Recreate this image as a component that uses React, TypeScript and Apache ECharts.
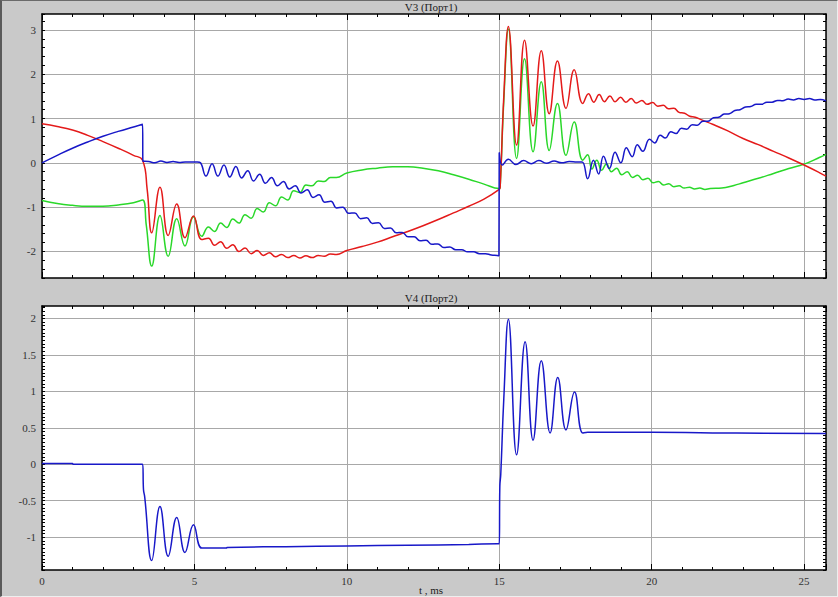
import React, { useEffect, useRef } from "react";
import * as echarts from "echarts";

// ---------- data ----------
const xMajorTicks = [0, 5, 10, 15, 20, 25];
const v3TickLabels = [-2, -1, 0, 1, 2, 3];
const v4TickLabels = [-1, -0.5, 0, 0.5, 1, 1.5, 2];

const v3Red: [number, number][] = [
  [0, 0.88], [0.5, 0.82], [1.0, 0.74], [1.5, 0.62], [2.0, 0.48], [2.5, 0.33], [3.0, 0.17], [3.3, 0.06],
  [3.45, -0.6], [3.6, -1.58], [3.87, -0.55], [4.14, -1.64], [4.42, -0.93], [4.69, -1.69], [4.97, -1.2], [5.24, -1.73],
  [5.46, -1.7], [5.66, -1.86], [5.86, -1.78], [6.06, -1.93], [6.26, -1.85], [6.46, -2.0], [6.66, -1.92], [6.86, -2.05],
  [7.06, -1.98], [7.26, -2.09], [7.46, -2.03], [7.66, -2.12], [7.86, -2.07], [8.06, -2.14], [8.26, -2.09], [8.46, -2.15],
  [8.66, -2.1], [8.86, -2.14], [9.06, -2.09], [9.26, -2.11], [9.46, -2.06], [9.66, -2.07],
  [10.0, -1.98], [10.5, -1.89], [11.0, -1.79], [11.5, -1.67], [12.0, -1.55], [12.5, -1.42], [13.0, -1.28],
  [13.5, -1.13], [14.0, -0.98], [14.5, -0.82], [15.0, -0.6],
  [15.03, -0.55], [15.15, 1.5], [15.3, 3.08], [15.57, 0.4], [15.83, 2.77], [16.11, 0.83], [16.38, 2.53], [16.64, 1.11],
  [16.91, 2.3], [17.19, 1.23], [17.46, 2.1], [17.74, 1.34],
  [17.93, 1.56], [18.1, 1.37], [18.28, 1.54], [18.45, 1.38], [18.63, 1.51], [18.8, 1.38], [18.98, 1.48], [19.15, 1.37],
  [19.33, 1.45], [19.5, 1.35], [19.68, 1.41], [19.85, 1.32], [20.03, 1.36], [20.2, 1.28], [20.38, 1.3], [20.55, 1.22],
  [20.73, 1.23], [20.9, 1.14], [21.08, 1.12], [21.25, 1.05], [21.43, 1.03], [21.6, 0.98],
  [22.0, 0.87], [22.5, 0.72], [23.0, 0.55], [23.5, 0.41], [24.0, 0.26], [24.5, 0.11], [25.0, -0.05], [25.5, -0.22], [25.72, -0.3],
];

const v3Green: [number, number][] = [
  [0, -0.85], [0.5, -0.92], [1.0, -0.96], [1.5, -0.98], [2.0, -0.98], [2.5, -0.95], [3.0, -0.9], [3.3, -0.84],
  [3.42, -1.4], [3.6, -2.33], [3.87, -1.19], [4.14, -2.11], [4.42, -1.26], [4.69, -1.88], [4.97, -1.22], [5.24, -1.66],
  [5.46, -1.45], [5.66, -1.55], [5.86, -1.36], [6.06, -1.46], [6.26, -1.27], [6.46, -1.36], [6.66, -1.17], [6.86, -1.25],
  [7.06, -1.03], [7.26, -1.11], [7.46, -0.9], [7.66, -0.97], [7.86, -0.77], [8.06, -0.84], [8.26, -0.63], [8.46, -0.67],
  [8.66, -0.5], [8.86, -0.52], [9.06, -0.41], [9.26, -0.42], [9.46, -0.33], [9.66, -0.33],
  [10.0, -0.23], [10.5, -0.16], [11.0, -0.12], [11.5, -0.09], [12.0, -0.09], [12.5, -0.12], [13.0, -0.18],
  [13.5, -0.27], [14.0, -0.37], [14.5, -0.48], [15.0, -0.58],
  [15.03, -0.55], [15.15, 1.4], [15.3, 3.02], [15.57, 0.1], [15.83, 2.35], [16.11, 0.25], [16.38, 1.83], [16.64, 0.28],
  [16.91, 1.34], [17.19, 0.17], [17.46, 0.92], [17.74, 0.06],
  [17.9, 0.18], [18.04, -0.14], [18.2, 0.06], [18.36, -0.17], [18.52, -0.02], [18.68, -0.2], [18.85, -0.12], [19.02, -0.27],
  [19.2, -0.2], [19.37, -0.33], [19.54, -0.28], [19.71, -0.38], [19.88, -0.35], [20.05, -0.45], [20.22, -0.42], [20.39, -0.5],
  [20.56, -0.47], [20.73, -0.54], [20.9, -0.52], [21.07, -0.57], [21.24, -0.55], [21.41, -0.59], [21.58, -0.57], [21.75, -0.6],
  [21.92, -0.58], [22.3, -0.57], [22.7, -0.51], [23.0, -0.45], [23.5, -0.35], [24.0, -0.24], [24.5, -0.13], [25.0, -0.03],
  [25.5, 0.12], [25.72, 0.19],
];

const v3Blue: [number, number][] = [
  [0, 0], [0.5, 0.17], [1.0, 0.33], [1.5, 0.47], [2.0, 0.6], [2.5, 0.71], [3.0, 0.81], [3.3, 0.87], [3.31, 0.04],
  [3.5, 0.03], [3.7, 0.0], [3.9, 0.04], [4.1, 0.01], [4.3, 0.03], [4.5, 0.01], [4.7, 0.02], [4.9, 0.02], [5.1, 0.02], [5.2, 0.0],
  [5.38, -0.3], [5.58, -0.02], [5.77, -0.3], [5.97, -0.05], [6.16, -0.32], [6.36, -0.08], [6.55, -0.34], [6.75, -0.18],
  [6.94, -0.41], [7.14, -0.26], [7.33, -0.46], [7.53, -0.33], [7.72, -0.52], [7.92, -0.42], [8.11, -0.59], [8.31, -0.52],
  [8.5, -0.68], [8.7, -0.61], [8.89, -0.78], [9.09, -0.72], [9.28, -0.89], [9.48, -0.87], [9.67, -1.02], [9.87, -1.0],
  [10.06, -1.14], [10.26, -1.13], [10.45, -1.26], [10.65, -1.24], [10.84, -1.37], [11.04, -1.35], [11.23, -1.48],
  [11.43, -1.47], [11.62, -1.58], [11.82, -1.57], [12.01, -1.67], [12.21, -1.67], [12.4, -1.76], [12.6, -1.75],
  [12.79, -1.84], [12.99, -1.83], [13.18, -1.91], [13.38, -1.9], [13.57, -1.96], [13.77, -1.96], [13.96, -2.01],
  [14.16, -2.01], [14.35, -2.05], [14.55, -2.05], [14.74, -2.08], [14.94, -2.09], [14.99, -2.1],
  [15.0, 0.23], [15.1, -0.05], [15.3, 0.08], [15.55, -0.04], [15.8, 0.05], [16.05, -0.02], [16.3, 0.05], [16.55, -0.01],
  [16.8, 0.04], [17.05, 0.0], [17.3, 0.03], [17.55, 0.02], [17.72, 0.02],
  [17.9, -0.36], [18.09, 0.06], [18.26, -0.25], [18.42, 0.15], [18.61, -0.13], [18.8, 0.24], [18.99, 0.0], [19.17, 0.34],
  [19.36, 0.14], [19.53, 0.41], [19.71, 0.26], [19.93, 0.53], [20.1, 0.45], [20.28, 0.62], [20.45, 0.56], [20.63, 0.7],
  [20.8, 0.66], [20.98, 0.78], [21.15, 0.76], [21.33, 0.86], [21.5, 0.85], [21.68, 0.94], [21.85, 0.94], [22.03, 1.02],
  [22.2, 1.03], [22.38, 1.1], [22.55, 1.11], [22.73, 1.18], [22.9, 1.2], [23.08, 1.26], [23.25, 1.27], [23.43, 1.32],
  [23.6, 1.32], [23.78, 1.37], [23.95, 1.37], [24.13, 1.41], [24.3, 1.4], [24.48, 1.44], [24.65, 1.42], [24.83, 1.45],
  [25.0, 1.43], [25.18, 1.45], [25.35, 1.42], [25.53, 1.43], [25.72, 1.4],
];

const v4Blue: [number, number][] = [
  [0, 0.01], [1.0, 0.01], [1.02, 0.0], [3.25, 0.0], [3.3, 0.0], [3.33, -0.35], [3.37, -0.45],
  [3.6, -1.32], [3.87, -0.58], [4.14, -1.26], [4.42, -0.73], [4.69, -1.21], [4.97, -0.83], [5.24, -1.15],
  [5.5, -1.15], [6.05, -1.15], [6.07, -1.14], [8.0, -1.13], [10.0, -1.12], [12.0, -1.11], [14.0, -1.1], [14.95, -1.09],
  [15.0, -1.09], [15.02, -0.3], [15.05, -0.14], [15.15, 0.9], [15.3, 1.99], [15.57, 0.13], [15.85, 1.68], [16.11, 0.33],
  [16.38, 1.42], [16.67, 0.43], [16.92, 1.19], [17.19, 0.47], [17.47, 0.99], [17.74, 0.43], [17.9, 0.44],
  [20.0, 0.44], [22.0, 0.43], [25.72, 0.42],
];

// ---------- styling ----------
const FONT = '"Liberation Serif", "DejaVu Serif", serif';
const GRID_COLOR = "#a8a8a8";
const RED = "#e41a1a";
const GREEN = "#2ad82a";
const BLUE = "#1818c8";
const X_MAX = 25.72;

function isTick(list: number[], v: number) {
  return list.some((t) => Math.abs(t - v) < 1e-6);
}

function xAxesFor(gridIndex: number, showLabels: boolean) {
  const axes: any[] = [];
  (["bottom", "top"] as const).forEach((pos) => {
    axes.push({
      type: "value", gridIndex, position: pos, min: 0, max: X_MAX, interval: 5,
      axisLine: { show: true, onZero: false, lineStyle: { color: "#000", width: 1.5 } },
      axisTick: { show: true, inside: true, length: 6, lineStyle: { color: "#000", width: 1 } },
      axisLabel: {
        show: showLabels && pos === "bottom", margin: 5, fontFamily: FONT, fontSize: 11, color: "#333",
        formatter: (v: number) => (isTick(xMajorTicks, v) ? String(Math.round(v)) : ""),
      },
      splitLine: { show: pos === "bottom", lineStyle: { color: GRID_COLOR, width: 1 } },
    });
    axes.push({
      type: "value", gridIndex, position: pos, min: 0, max: X_MAX, interval: 1,
      axisLine: { show: false, onZero: false },
      axisTick: { show: true, inside: true, length: 3, lineStyle: { color: "#000", width: 1 } },
      axisLabel: { show: false },
      splitLine: { show: false },
    });
  });
  return axes;
}

function yAxesFor(gridIndex: number, min: number, max: number, interval: number, labels: number[], colors: string[]) {
  return (["left", "right"] as const).map((pos) => ({
    type: "value", gridIndex, position: pos, min, max, interval,
    axisLine: { show: true, onZero: false, lineStyle: { color: "#000", width: 1.5 } },
    axisTick: { show: true, inside: true, length: 3, lineStyle: { color: "#000", width: 1 } },
    axisLabel: {
      show: pos === "left", margin: 6, fontFamily: FONT, fontSize: 11, color: "#333",
      formatter: (v: number) => {
        const t = labels.find((l) => Math.abs(l - v) < 1e-6);
        return t === undefined ? "" : String(t);
      },
    },
    splitLine: { show: pos === "left", lineStyle: { color: colors, width: 1 } },
  }));
}

const T = "rgba(0,0,0,0)";

export default function App() {
  const ref = useRef<HTMLDivElement>(null);

  useEffect(() => {
    if (!ref.current) return;
    const chart = echarts.init(ref.current, undefined, { renderer: "svg" });
    const lineSeries = (name: string, data: [number, number][], color: string, xi: number, yi: number) => ({
      name, type: "line", data, xAxisIndex: xi, yAxisIndex: yi, showSymbol: false, smooth: 0.45,
      lineStyle: { color, width: 1.5 }, itemStyle: { color }, silent: true, clip: true,
    });
    chart.setOption({
      animation: false,
      backgroundColor: "#c9c9c9",
      grid: [
        { left: 42, top: 14, width: 784, height: 264, show: true, backgroundColor: "#fff", borderWidth: 0 },
        { left: 42, top: 306, width: 784, height: 264, show: true, backgroundColor: "#fff", borderWidth: 0 },
      ],
      xAxis: [...xAxesFor(0, false), ...xAxesFor(1, true)],
      yAxis: [
        ...yAxesFor(0, -2.6, 3.36, 0.2, v3TickLabels, [T, T, T, GRID_COLOR, T]),
        ...yAxesFor(1, -1.45, 2.17, 0.05, v4TickLabels, [T, T, T, T, T, T, T, T, T, GRID_COLOR]),
      ],
      series: [
        lineSeries("V3 green", v3Green, GREEN, 0, 0),
        lineSeries("V3 red", v3Red, RED, 0, 0),
        lineSeries("V3 blue", v3Blue, BLUE, 0, 0),
        lineSeries("V4", v4Blue, BLUE, 4, 2),
      ],
      graphic: [
        { type: "text", x: 431, y: 7, style: { text: "V3 (Порт1)", font: `11px ${FONT}`, fill: "#222", align: "center", verticalAlign: "middle" } },
        { type: "text", x: 431, y: 298, style: { text: "V4 (Порт2)", font: `11px ${FONT}`, fill: "#222", align: "center", verticalAlign: "middle" } },
        { type: "text", x: 431, y: 590, style: { text: "t , ms", font: `11px ${FONT}`, fill: "#222", align: "center", verticalAlign: "middle" } },
      ],
    });
    return () => chart.dispose();
  }, []);

  return (
    <div style={{ position: "fixed", left: 0, top: 0, width: 838, height: 597, background: "#c9c9c9" }}>
      <div ref={ref} style={{ position: "absolute", left: 0, top: 0, width: 838, height: 597 }} />
      <div
        style={{
          position: "absolute", left: 0, top: 0, width: 838, height: 597, boxSizing: "border-box",
          borderTop: "1px solid #6a6a6a", borderLeft: "2px solid #5a5a5a",
          borderRight: "1px solid #eeeeee", borderBottom: "1px solid #eeeeee", pointerEvents: "none",
        }}
      />
    </div>
  );
}
